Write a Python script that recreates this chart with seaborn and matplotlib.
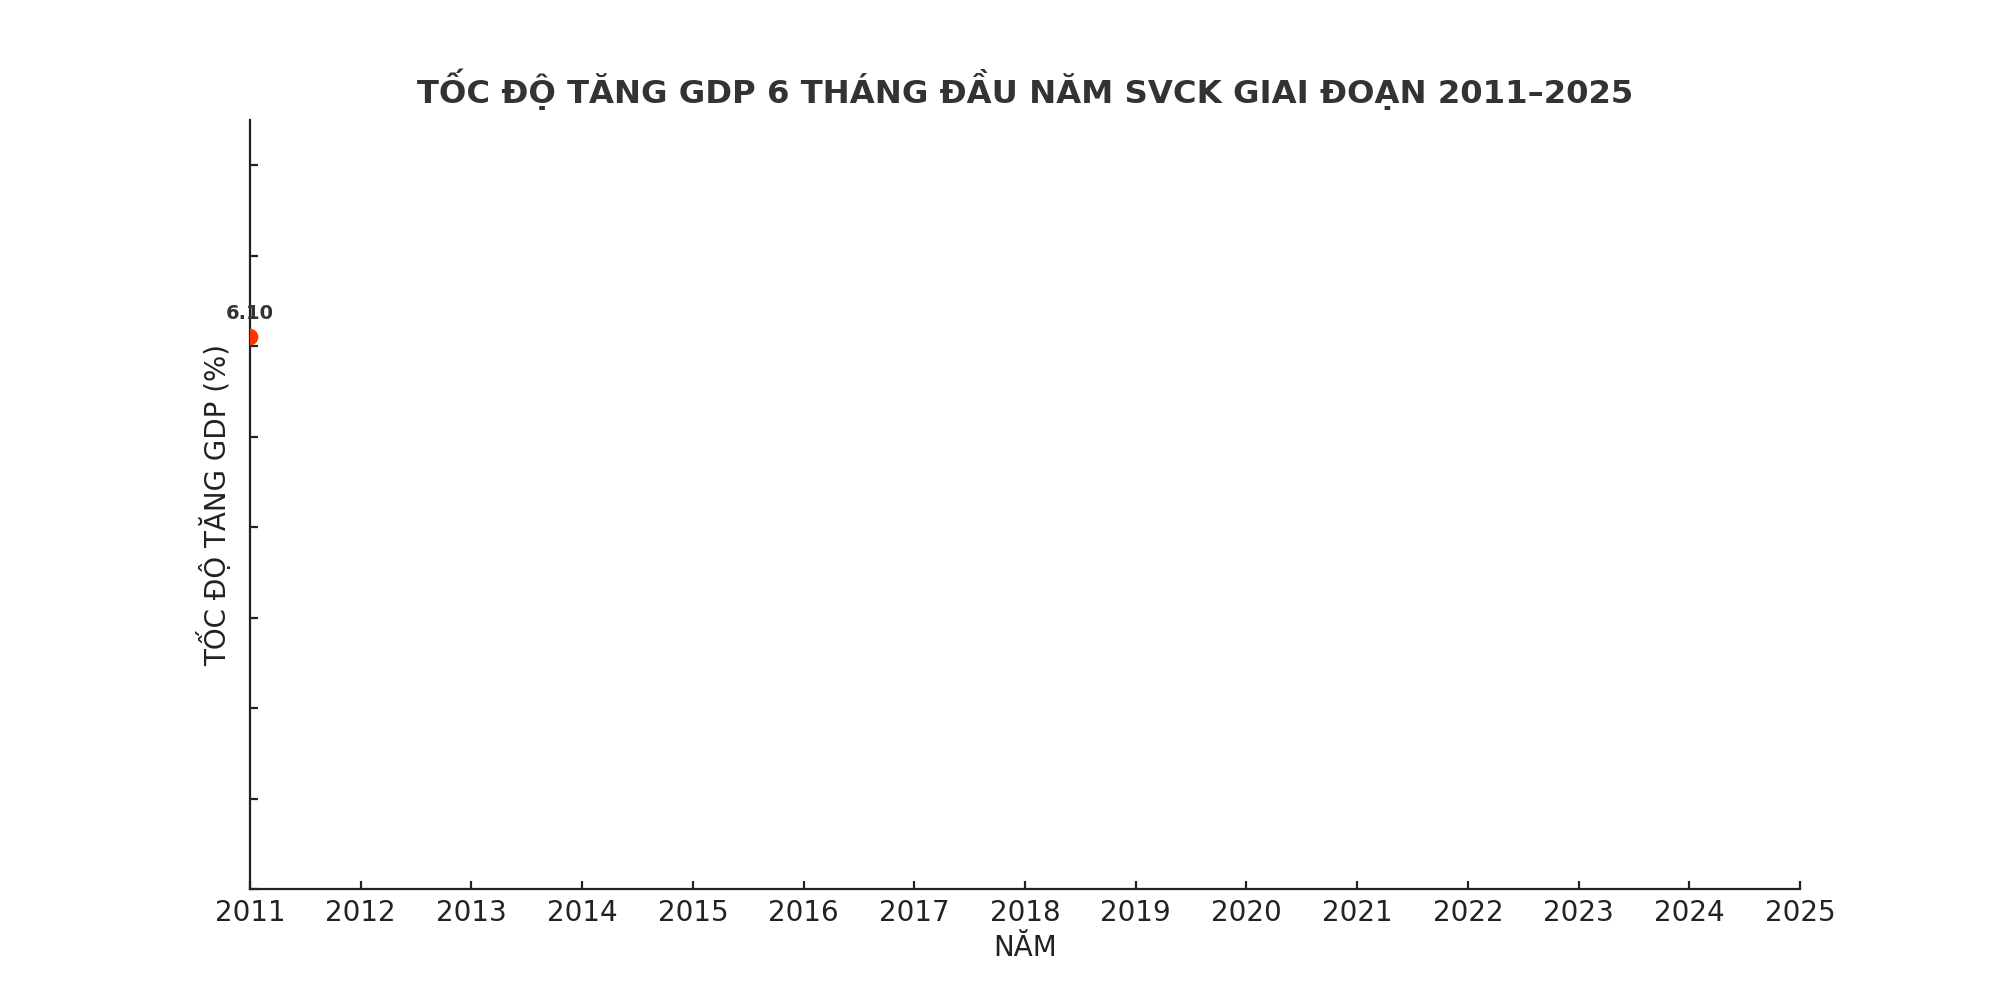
import pandas as pd
import matplotlib
matplotlib.use("Agg")
import matplotlib.pyplot as plt
import seaborn as sns

# Dữ liệu
nam = [2011]
tang_truong = [6.10]
nam_truc = list(range(2011, 2026))
moc_y = [0, 1, 2, 3, 4, 5, 6, 7, 8]

df = pd.DataFrame({"nam": nam, "gdp": tang_truong})

sns.set_style("ticks")
plt.rcParams["font.family"] = ["DejaVu Sans"]
plt.rcParams["xtick.direction"] = "in"
plt.rcParams["ytick.direction"] = "in"

fig, ax = plt.subplots(figsize=(10, 5), dpi=200)
fig.subplots_adjust(left=0.125, right=0.9, bottom=0.111, top=0.88)

sns.scatterplot(data=df, x="nam", y="gdp", ax=ax, color="#FF3300",
                s=36, edgecolor="none", zorder=3, clip_on=True)

for x, y in zip(nam, tang_truong):
    ax.annotate(f"{y:.2f}", (x, y), xytext=(0, 5), textcoords="offset points",
                ha="center", va="bottom", fontsize=7, fontweight="bold",
                color="#333333", annotation_clip=False)

ax.set_xlim(2011, 2025)
ax.set_ylim(0, 8.5)
ax.set_xticks(nam_truc)
ax.set_xticklabels([str(n) for n in nam_truc], fontsize=10, color="#222222")
ax.set_yticks(moc_y)
ax.set_yticklabels([])
ax.tick_params(axis="both", length=3, width=0.8, color="#222222")

ax.set_title("TỐC ĐỘ TĂNG GDP 6 THÁNG ĐẦU NĂM SVCK GIAI ĐOẠN 2011–2025",
             fontsize=11.6, fontweight="bold", color="#333333", pad=6)
ax.set_xlabel("NĂM", fontsize=10, color="#222222", labelpad=2.6)
ax.set_ylabel("TỐC ĐỘ TĂNG GDP (%)", fontsize=10, color="#222222", labelpad=3)

sns.despine(ax=ax)
for sp in ["left", "bottom"]:
    ax.spines[sp].set_color("#222222")
    ax.spines[sp].set_linewidth(0.8)

plt.savefig("out.png", dpi=200)
